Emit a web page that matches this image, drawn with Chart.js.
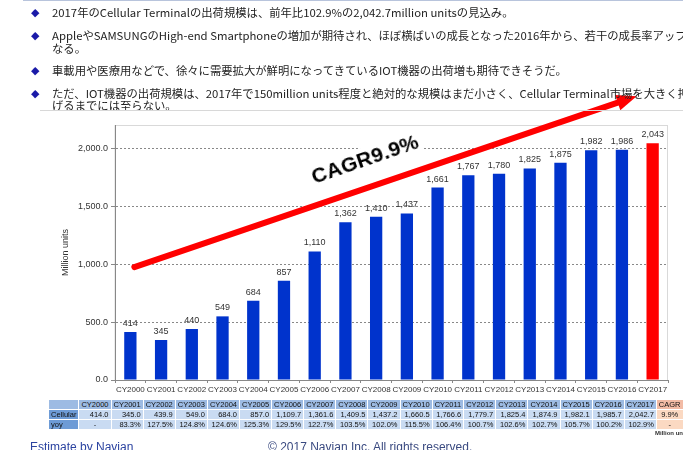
<!DOCTYPE html>
<html>
<head>
<meta charset="utf-8">
<script src="https://cdn.jsdelivr.net/npm/chart.js@4"></script>
<style>
  body { margin: 0; width: 683px; height: 450px; overflow: hidden; background: #fff; position: relative; font-family: "Liberation Sans", Arial, sans-serif; }
  #wrap { position: absolute; left: 0; top: 0; width: 683px; height: 450px; }
  .topline { position: absolute; left: 23px; top: 0; width: 660px; height: 1px; background: #b8c4dc; }
  .sepline { position: absolute; left: 40px; top: 110px; width: 643px; height: 1px; background: #d8d8d8; }
  .bul { position: absolute; left: 31px; color: #1a1aa8; font-size: 11px; line-height: 12px; }
  .txt { position: absolute; left: 52px; font-family: "Noto Sans CJK JP", sans-serif; font-size: 11px; line-height: 12px; white-space: nowrap; color: #222; transform-origin: left center; transform: scaleX(1.03); }
  #cagr { position: absolute; left: 306px; top: 147px; font: bold 21px "Liberation Sans", Arial, sans-serif; color: #000; background: #fff; padding: 0 3px; transform: rotate(-19deg); transform-origin: center; letter-spacing: 0.3px; }
  table { position: absolute; left: 48px; top: 399px; border-collapse: collapse; font-size: 7.5px; font-family: "Liberation Sans", Arial, sans-serif; table-layout: fixed; }
  td { height: 9px; padding: 0 2px; border: 1px solid #fff; text-align: right; line-height: 8px; color: #111; white-space: nowrap; overflow: hidden; }
  td.h { background: #9dbbe3; text-align: center; }
  td.l { background: #6d9bd6; text-align: left; }
  td.d { background: #c9dbf2; }
  td.ch { background: #f2bba5; text-align: center; }
  td.cd { background: #fbd9c2; text-align: center; }
  #unit { position: absolute; left: 655px; top: 430px; font: bold 6px "Liberation Sans", Arial, sans-serif; color: #333; white-space: nowrap; }
  #est { position: absolute; left: 30px; top: 440px; font-size: 12px; color: #2b43a0; }
  #copy { position: absolute; left: 268px; top: 440px; font-size: 12px; color: #3a4a80; }
</style>
</head>
<body>
<div id="wrap"><canvas id="chart" width="683" height="450"></canvas></div>

<div class="topline"></div>
<div class="bul" style="top:6px">◆</div>
<div class="txt" style="top:6px">2017年のCellular Terminalの出荷規模は、前年比102.9%の2,042.7million unitsの見込み。</div>
<div class="bul" style="top:29px">◆</div>
<div class="txt" style="top:29px">AppleやSAMSUNGのHigh-end Smartphoneの増加が期待され、ほぼ横ばいの成長となった2016年から、若干の成長率アップと</div>
<div class="txt" style="top:42px">なる。</div>
<div class="bul" style="top:64px">◆</div>
<div class="txt" style="top:64px">車載用や医療用などで、徐々に需要拡大が鮮明になってきているIOT機器の出荷増も期待できそうだ。</div>
<div class="bul" style="top:87px">◆</div>
<div class="txt" style="top:87px">ただ、IOT機器の出荷規模は、2017年で150million units程度と絶対的な規模はまだ小さく、Cellular Terminal市場を大きく押し上</div>
<div class="txt" style="top:99px">げるまでには至らない。</div>
<div class="sepline"></div>

<div id="cagr">CAGR9.9%</div>

<table id="tbl"></table>
<div id="unit">Million units</div>
<div id="est">Estimate by Navian</div>
<div id="copy">© 2017 Navian Inc. All rights reserved.</div>

<script>
// データ
const years = ['CY2000', 'CY2001', 'CY2002', 'CY2003', 'CY2004', 'CY2005', 'CY2006', 'CY2007', 'CY2008',
  'CY2009', 'CY2010', 'CY2011', 'CY2012', 'CY2013', 'CY2014', 'CY2015', 'CY2016', 'CY2017'];
const cellular = [414.0, 345.0, 439.9, 549.0, 684.0, 857.0, 1109.7, 1361.6, 1409.5,
  1437.2, 1660.5, 1766.6, 1779.7, 1825.4, 1874.9, 1982.1, 1985.7, 2042.7];
const yoy = ['-', '83.3%', '127.5%', '124.8%', '124.6%', '125.3%', '129.5%', '122.7%', '103.5%',
  '102.0%', '115.5%', '106.4%', '100.7%', '102.6%', '102.7%', '105.7%', '100.2%', '102.9%'];
const yTicks = [0, 500, 1000, 1500, 2000];
const cagrLabel = 'CAGR';
const cagrValue = '9.9%';
// 矢印 (カテゴリ位置, 値)
const arrowFrom = [0.13, 974];
const arrowTo = [16.48, 2448];

const barColors = cellular.map((v, i) => i === cellular.length - 1 ? '#ff0000' : '#0033cc');
const fmt0 = v => Math.round(v).toLocaleString('en-US');
const fmt1 = v => v.toLocaleString('en-US', { minimumFractionDigits: 1, maximumFractionDigits: 1 });

// テーブル
const tbl = document.getElementById('tbl');
let html = '<colgroup><col style="width:32px">' + years.map(() => '<col style="width:32.3px">').join('') + '<col style="width:40px"></colgroup>';
html += '<tr><td class="h"></td>' + years.map(y => '<td class="h">' + y + '</td>').join('') + '<td class="ch">' + cagrLabel + '</td></tr>';
html += '<tr><td class="l">Cellular</td>' + cellular.map(v => '<td class="d">' + fmt1(v) + '</td>').join('') + '<td class="cd">' + cagrValue + '</td></tr>';
html += '<tr><td class="l">yoy</td>' + yoy.map(v => '<td class="d"' + (v === '-' ? ' style="text-align:center"' : '') + '>' + v + '</td>').join('') + '<td class="cd">-</td></tr>';
tbl.innerHTML = html;

// 値ラベル・枠・矢印
const extras = {
  id: 'extras',
  beforeDraw(chart) {
    const { ctx, chartArea: a } = chart;
    ctx.save();
    ctx.strokeStyle = '#d9d9d9';
    ctx.lineWidth = 1;
    ctx.strokeRect(a.left, a.top + 0.5, a.right - a.left - 0.5, a.bottom - a.top);
    ctx.restore();
  },
  afterDatasetsDraw(chart) {
    const { ctx } = chart;
    const meta = chart.getDatasetMeta(0);
    ctx.save();
    ctx.font = '9px "Liberation Sans", Arial, sans-serif';
    ctx.fillStyle = '#333';
    ctx.textAlign = 'center';
    ctx.textBaseline = 'bottom';
    meta.data.forEach((bar, i) => {
      ctx.fillText(fmt0(cellular[i]), bar.x, bar.y - 4);
    });
    // 矢印
    const xs = chart.scales.x, ys = chart.scales.y;
    const x1 = xs.getPixelForValue(arrowFrom[0]), y1 = ys.getPixelForValue(arrowFrom[1]);
    const x2 = xs.getPixelForValue(arrowTo[0]), y2 = ys.getPixelForValue(arrowTo[1]);
    const ang = Math.atan2(y2 - y1, x2 - x1);
    const headLen = 20, headW = 8;
    const bx = x2 - headLen * Math.cos(ang), by = y2 - headLen * Math.sin(ang);
    ctx.strokeStyle = '#ff0000';
    ctx.fillStyle = '#ff0000';
    ctx.lineWidth = 6;
    ctx.lineCap = 'round';
    ctx.beginPath();
    ctx.moveTo(x1, y1);
    ctx.lineTo(bx, by);
    ctx.stroke();
    ctx.beginPath();
    ctx.moveTo(x2, y2);
    ctx.lineTo(bx + headW * Math.sin(ang), by - headW * Math.cos(ang));
    ctx.lineTo(bx - headW * Math.sin(ang), by + headW * Math.cos(ang));
    ctx.closePath();
    ctx.fill();
    ctx.restore();
  }
};

new Chart(document.getElementById('chart').getContext('2d'), {
  type: 'bar',
  data: {
    labels: years,
    datasets: [{
      label: 'Cellular',
      data: cellular,
      backgroundColor: barColors,
      categoryPercentage: 1,
      barPercentage: 0.4
    }]
  },
  options: {
    responsive: false,
    animation: false,
    layout: { padding: { left: 56, right: 15, top: 125, bottom: 52 } },
    plugins: { legend: { display: false }, tooltip: { enabled: false } },
    scales: {
      x: {
        grid: { display: true, offset: true, drawOnChartArea: false, tickLength: 3, color: '#888' },
        border: { color: '#888', width: 1 },
        ticks: { color: '#333', font: { size: 8 }, padding: 2, maxRotation: 0, autoSkip: false },
        afterFit: s => { s.height = 18; }
      },
      y: {
        min: 0,
        max: 2200,
        afterBuildTicks: s => { s.ticks = yTicks.map(v => ({ value: v })); },
        grid: { color: '#888', tickLength: 4, drawTicks: true },
        border: { color: '#888', width: 1, dash: [2, 2] },
        ticks: { color: '#333', font: { size: 9 }, padding: 3, callback: v => fmt1(v) },
        title: { display: true, text: 'Million units', color: '#333', font: { size: 9 }, padding: { top: 4, bottom: 4 } },
        afterFit: s => { s.width = 59; }
      }
    }
  },
  plugins: [extras]
});
</script>
</body>
</html>
